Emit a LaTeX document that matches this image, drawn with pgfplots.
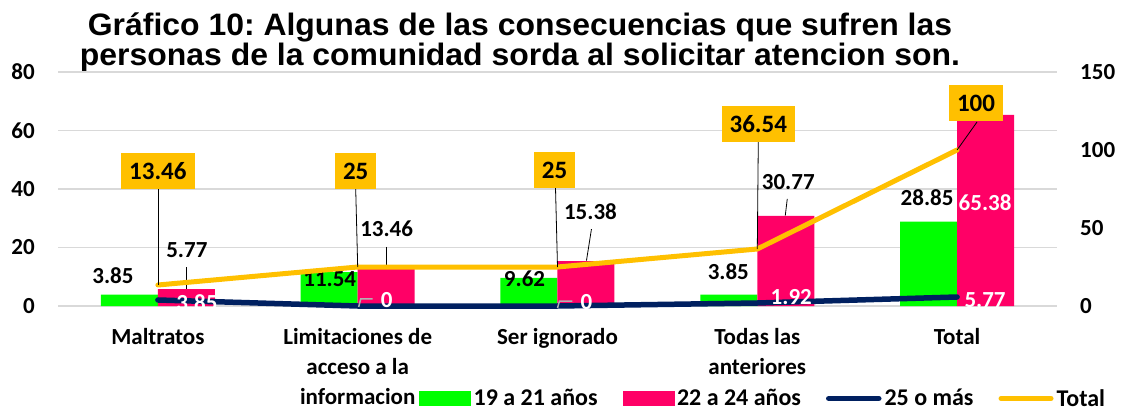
\documentclass[border=0pt]{standalone}
\usepackage{pgfplots}
\pgfplotsset{compat=1.18}
\usepackage{fontspec}
\setmainfont{Carlito}
\newfontfamily\titlefont{Liberation Sans}[FakeStretch=1.03]
\definecolor{cgreen}{HTML}{00FF00}
\definecolor{cpink}{HTML}{FF0066}
\definecolor{cnavy}{HTML}{002060}
\definecolor{cgold}{HTML}{FFC000}
\definecolor{cgrid}{HTML}{D9D9D9}
\newcommand{\lf}{\fontsize{23bp}{30bp}\selectfont\bfseries}
\newcommand{\legf}{\fontsize{24bp}{30bp}\selectfont\bfseries}
\newcommand{\boxf}{\fontsize{25bp}{30bp}\selectfont\bfseries}
\frenchspacing
\begin{document}
\begin{tikzpicture}
\useasboundingbox (-58bp,-104bp) rectangle (1066bp,306bp);
% title
\node[font=\titlefont\fontsize{31bp}{31bp}\selectfont\bfseries, anchor=base, inner sep=0pt] at (462bp,270bp) {Gráfico 10: Algunas de las consecuencias que sufren las};
\node[font=\titlefont\fontsize{31bp}{31bp}\selectfont\bfseries, anchor=base, inner sep=0pt] at (462bp,240bp) {personas de la comunidad sorda al solicitar atencion son.};
\begin{axis}[
  scale only axis, width=999bp, height=234bp,
  xmin=-0.5, xmax=4.5, ymin=0, ymax=80,
  axis x line*=bottom, axis y line*=left,
  axis line style={draw=none},
  major tick length=0pt,
  ytick={0,20,...,80},
  ymajorgrids, grid style={cgrid, line width=1.5bp},
  xtick={0,1,2,3,4},
  xticklabels={Maltratos,{Limitaciones de\\acceso a la\\informacion},Ser ignorado,{Todas las\\anteriores},Total},
  xticklabel style={font=\lf, align=center, inner sep=0pt, anchor=north, yshift=-22bp},
  yticklabel style={font=\lf, inner sep=0pt, anchor=east, xshift=-23bp},
  /pgf/number format/assume math mode=true,
  ybar=0pt, bar width=57bp,
  clip=false,
]
\addplot[fill=cgreen, draw=none] coordinates {(0,3.85) (1,11.54) (2,9.62) (3,3.85) (4,28.85)};
\addplot[fill=cpink, draw=none] coordinates {(0,5.77) (1,13.46) (2,15.38) (3,30.77) (4,65.38)};
% labels 19 a 21
\node[font=\lf] at (axis cs:-0.225,10.26) {3.85};
\node[font=\lf] at (axis cs:0.86,9.2) {11.54};
\node[font=\lf] at (axis cs:1.835,9.4) {9.62};
\node[font=\lf] at (axis cs:2.855,11.62) {3.85};
\node[font=\lf] at (axis cs:3.85,36.9) {28.85};
% labels 22 a 24
\node[font=\lf] at (axis cs:0.145,19.15) {5.77};
\draw[black, line width=0.8bp] (axis cs:0.145,13.33) -- (axis cs:0.145,5.9);
\node[font=\lf] at (axis cs:1.145,26.3) {13.46};
\draw[black, line width=0.8bp] (axis cs:1.145,20.2) -- (axis cs:1.145,13.5);
\node[font=\lf] at (axis cs:2.165,32.1) {15.38};
\draw[black, line width=0.8bp] (axis cs:2.17,26.3) -- (axis cs:2.145,15.5);
\node[font=\lf] at (axis cs:3.155,42.4) {30.77};
\draw[black, line width=0.8bp] (axis cs:3.15,36.6) -- (axis cs:3.14,30.9);
\node[font=\lf, text=white] at (axis cs:4.14,35.2) {65.38};
\end{axis}
\begin{axis}[
  scale only axis, width=999bp, height=234bp,
  xmin=-0.5, xmax=4.5, ymin=0, ymax=150,
  axis x line=none, axis y line*=right,
  axis line style={draw=none},
  major tick length=0pt,
  ytick={0,50,...,150},
  yticklabel style={font=\lf, inner sep=0pt, anchor=west, xshift=23bp},
  /pgf/number format/assume math mode=true,
  clip=false,
  legend columns=4,
  legend cell align=left,
  legend style={at={(rel axis cs:0.3614,-0.395)}, anchor=west, draw=none, fill=none,
    inner sep=0pt, font=\legf, nodes={inner sep=3bp},
    /tikz/every even column/.append style={column sep=22bp}},
]
\addlegendimage{legend image code/.code={\fill[cgreen] (0bp,-7bp) rectangle (51bp,7bp);}}
\addlegendimage{legend image code/.code={\fill[cpink] (0bp,-7bp) rectangle (51bp,7bp);}}
\addplot[cnavy, line width=5.5bp, line join=round, line cap=round, mark=none,
  legend image code/.code={\draw[cnavy, line width=5.5bp, line cap=round] (2bp,0bp) -- (52bp,0bp);}]
  coordinates {(0,3.85) (1,0) (2,0) (3,1.92) (4,5.77)};
\addplot[cgold, line width=5bp, line join=round, line cap=round, mark=none,
  legend image code/.code={\draw[cgold, line width=5bp, line cap=round] (2bp,0bp) -- (52bp,0bp);}]
  coordinates {(0,13.46) (1,25) (2,25) (3,36.54) (4,100)};
\legend{19 a 21 años, 22 a 24 años, 25 o más, Total}
% labels 25 o mas
\node[font=\lf, text=white] at (axis cs:0.195,1.92) {3.85};
\draw[gray!60, line width=1.5bp] (axis cs:1.005,-0.6) -- (axis cs:1.015,4.5) -- (axis cs:1.075,4.5);
\node[font=\lf, text=white] at (axis cs:1.145,3.85) {0};
\draw[gray!60, line width=1.5bp] (axis cs:2.0,-1.3) -- (axis cs:2.01,3.2) -- (axis cs:2.075,3.2);
\node[font=\lf, text=white] at (axis cs:2.145,2.56) {0};
\node[font=\lf, text=white] at (axis cs:3.17,5.77) {1.92};
\node[font=\lf, text=white] at (axis cs:4.14,3.85) {5.77};
% labels Total
\draw[black, line width=0.8bp] (axis cs:0,75) -- (axis cs:0,13.46);
\node[font=\boxf, fill=cgold, inner xsep=8bp, minimum height=36bp] at (axis cs:0,86.5) {13.46};
\draw[black, line width=0.8bp] (axis cs:0.99,75) -- (axis cs:1.0,25);
\node[font=\boxf, fill=cgold, inner xsep=8bp, minimum height=36bp] at (axis cs:0.99,86.5) {25};
\draw[black, line width=0.8bp] (axis cs:1.99,76) -- (axis cs:2.0,25);
\node[font=\boxf, fill=cgold, inner xsep=8bp, minimum height=36bp] at (axis cs:1.985,87.2) {25};
\draw[black, line width=0.8bp] (axis cs:3.005,105) -- (axis cs:3.0,36.54);
\node[font=\boxf, fill=cgold, inner xsep=8bp, minimum height=36bp] at (axis cs:3.005,116.7) {36.54};
\draw[black, line width=0.8bp] (axis cs:4.1,118) -- (axis cs:4.0,100);
\node[font=\boxf, fill=cgold, inner xsep=8bp, minimum height=36bp] at (axis cs:4.095,130.1) {100};
\end{axis}
\end{tikzpicture}
\end{document}
